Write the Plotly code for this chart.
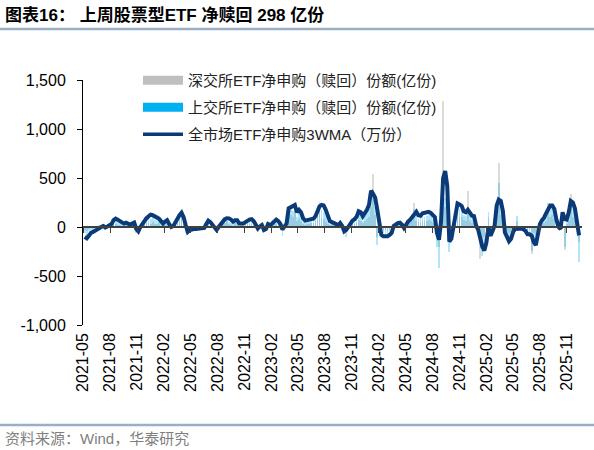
import pandas as pd
import plotly.graph_objects as go

# weekly values, first week 2021-05-07
first_week = "2021-05-07"

# 全市场ETF净申购3WMA
wma3 = [
    -100, -115, -90, -60, -50, -35, -25, -10, 0, 10,
    -5, 5, 15, 30, 70, 85, 75, 60, 45, 35,
    45, 40, 25, 35, 45, -20, -45, 0, 35, 60,
    90, 110, 125, 120, 110, 95, 85, 60, 35, 55,
    70, 30, 0, 10, 50, 90, 120, 145, 100, 20,
    -50, -30, -20, -20, -20, -20, -15, -15, -10, 30,
    65, 50, 20, -5, -30, 0, 30, 55, 80, 90,
    88, 75, 55, 70, 70, 35, 35, 35, 50, 65,
    75, 80, 60, 25, -15, 5, 20, -30, -20, 30,
    20, 35, 60, 75, 60, 30, -25, 5, 35, 190,
    205, 210, 225, 150, 175, 150, 90, 65, 75, 75,
    80, 85, 110, 170, 210, 225, 220, 175, 120, 60,
    50, 45, 30, 15, 40, 10, -45, -30, 0, 45,
    65, 80, 105, 160, 150, 110, 140, 175, 225, 370,
    340, 300, 180, 20, -80, -95, -95, -95, -80, -60,
    10, 30, 40, 45, 25, -10, 25, 55, 75, 100,
    125, 155, 120, 115, 140, 145, 145, 155, 145, 125,
    100, -60, -130, 60, 500, 570, 420, -150, -120, 0,
    130, 240, 230, 215, 160, 150, 175, 150, 115, 110,
    15, -25, -110, -200, -240, -160, 0, -90, -40, 15,
    220, 280, 265, 165, -55, -110, -145, -120, -50, -20,
    -15, -15, -15, -25, -40, -75, -75, -90, -155, -185,
    -75, 30, 70, 95, 140, 180, 220, 220, 185, 75,
    0, -20, 150, 80, 75, 150, 265, 250, 190, 50, -85,
]

# 上交所ETF净申购（赎回）份额
sh_flow = [
    -60, -90, -40, -30, -50, -10, -20, 20, -10, 30,
    -30, 20, 40, 10, 80, 60, 50, 40, 30, 20,
    50, 20, 10, 40, 30, -60, -30, 30, 40, 50,
    70, 90, 80, 100, 70, 60, 80, 30, 10, 50,
    60, -10, -20, 30, 60, 90, 110, 100, 60, -60,
    -40, -10, -20, -10, -20, -10, -20, 0, -10, 40,
    50, 30, -10, -30, -20, 20, 40, 50, 70, 100,
    50, 40, 30, 90, 40, 10, 30, 20, 40, 60,
    50, 60, 30, 10, -50, 20, 10, -40, 0, 30,
    10, 30, 50, 60, 40, 10, -90, 20, 40, 150,
    170, 160, 200, 100, 160, 120, 50, 40, 70, 60,
    60, 70, 100, 150, 180, 170, 150, 120, 60, 30,
    40, 30, 20, -10, 40, -20, -40, -100, 20, 40,
    50, 60, 90, 130, 120, 60, 110, 150, 180, 320,
    380, 200, -180, -60, -90, -60, -80, -70, -60, -30,
    20, 30, 30, 40, 10, -30, 30, 40, 60, 80,
    180, 120, 80, 90, 120, 100, 110, 130, 120, 80,
    80, -200, -420, 60, 350, 300, 150, -250, -100, 20,
    140, 220, 180, 170, 120, 110, 200, 110, 80, 90,
    -20, -60, -150, -300, -180, -120, 150, -70, -30, 10,
    200, 450, 200, 120, -60, -80, -120, -90, -30, 0,
    110, -20, -10, -30, -40, -60, -50, -240, -130, -160,
    -50, 20, 60, 70, 110, 150, 180, 200, 140, 50,
    -20, -10, 120, -200, 60, 120, 200, 220, 150, 30, -360,
]

# 深交所ETF净申购（赎回）份额
sz_flow = [
    -30, -40, -20, -10, -20, -10, -10, 10, 0, 20,
    -10, 10, 20, 10, 40, 30, 20, 20, 10, 10,
    20, 10, 10, 20, 10, -30, -10, 10, 20, 100,
    40, 40, 30, 50, 30, 30, 40, 10, 0, 20,
    30, 0, -10, 10, 30, 40, 60, 120, 30, -30,
    -20, -10, -10, -10, -10, 0, -10, 0, 0, 20,
    30, 10, 0, -20, -10, 10, 20, 30, 40, 60,
    30, 20, 10, 60, 20, 10, 10, 10, 20, 30,
    30, 30, 20, 10, -30, 10, 10, -20, 0, 20,
    10, 20, 30, 30, 20, 10, -40, 10, 30, 150,
    120, 100, 150, 60, 80, 60, 30, 20, 30, 30,
    40, 40, 60, 110, 260, 90, 80, 50, 30, 20,
    20, 20, 10, 0, 20, -10, -20, -50, 10, 20,
    30, 30, 50, 70, 60, 40, 60, 80, 100, 200,
    540, 120, -100, -40, -40, -30, -40, -40, -30, -20,
    10, 20, 20, 20, 10, -20, 20, 20, 40, 60,
    250, 60, 50, 50, 60, 60, 60, 70, 60, 40,
    40, -100, -200, 40, 1290, 200, 100, -150, -60, 10,
    80, 150, 100, 100, 70, 60, 370, 60, 40, 40,
    -10, -30, -330, -150, -100, -60, 100, -40, -20, 10,
    150, 650, 120, 60, -40, -50, -60, -50, -20, 0,
    60, -10, -10, -20, -20, -30, -30, -280, -60, -80,
    -30, 10, 30, 40, 60, 250, 100, 120, 80, 30,
    -10, -10, 60, -230, 30, 60, 340, 100, 80, 20, -150,
]

y_ticks = [-1000, -500, 0, 500, 1000, 1500]
y_tick_labels = ["-1,000", "-500", "0", "500", "1,000", "1,500"]
y_range = [-1000, 1500]
x_range = ["2021-05-01", "2025-12-22"]

dates = pd.date_range(first_week, periods=len(wma3), freq="7D")

FONT = "Arial, Liberation Sans, Noto Sans CJK SC, sans-serif"
W, H = 594, 450
ML, MR, MT, MB = 83, 12, 80, 125
pw = W - ML - MR
ph = H - MT - MB

GRAY = "#bfbfbf"
BLUE = "#00b0f0"
NAVY = "#0b3a78"
RULE = "#9aaec6"

bar_w = 2.5 * 86400000

fig = go.Figure()
fig.add_trace(go.Bar(x=dates, y=sz_flow, width=bar_w, marker_color=GRAY,
                     marker_line_width=0, opacity=0.55, showlegend=False))
fig.add_trace(go.Bar(x=dates, y=sh_flow, width=bar_w, marker_color=BLUE,
                     marker_line_width=0, opacity=0.3, showlegend=False))
fig.add_trace(go.Scatter(x=dates, y=wma3, xaxis="x2", mode="lines",
                         line=dict(color=NAVY, width=4), showlegend=False))

# legend entries (wide swatches like the original)
legend_items = [
    ("深交所ETF净申购（赎回）份额(亿份)", GRAY, 9),
    ("上交所ETF净申购（赎回）份额(亿份)", BLUE, 9),
    ("全市场ETF净申购3WMA（万份）", NAVY, 3.5),
]
for i, (name, col, lw) in enumerate(legend_items):
    fig.add_trace(go.Scatter(x=[None], y=[None], mode="lines", name=name,
                             legendgroup=f"g{i}",
                             line=dict(color=col, width=lw)))

zero_pos = (0 - y_range[0]) / (y_range[1] - y_range[0])

fig.update_layout(
    width=W, height=H,
    margin=dict(l=ML, r=MR, t=MT, b=MB),
    paper_bgcolor="white", plot_bgcolor="white",
    font=dict(family=FONT, size=15, color="black"),
    barmode="overlay",
    bargap=0,
    title=dict(text="<b>图表16： 上周股票型ETF 净赎回 298 亿份</b>",
               x=5 / W, xanchor="left", xref="container",
               y=1 - 15 / H, yanchor="middle", yref="container",
               font=dict(family=FONT, size=17, color="black")),
    xaxis=dict(range=x_range, type="date", tickformat="%Y-%m",
               dtick="M3", tick0="2021-05-01", tickangle=-90,
               showgrid=False, zeroline=False, showline=False,
               automargin=False, ticklabelstandoff=4,
               ticks="", tickfont=dict(size=16, color="black")),
    xaxis2=dict(matches="x", overlaying="x", anchor="free",
                position=zero_pos, range=x_range, type="date",
                dtick="M3", tick0="2021-05-01", showticklabels=False,
                showgrid=False, zeroline=False, showline=True,
                automargin=False,
                linecolor="#404040", linewidth=1.5,
                ticks="outside", ticklen=5, tickcolor="#404040"),
    yaxis=dict(range=y_range, tickvals=y_ticks, ticktext=y_tick_labels,
               showgrid=False, zeroline=False, showline=True,
               automargin=False, ticklabelstandoff=8,
               linecolor="black", linewidth=1, ticks="outside",
               ticklen=5, tickcolor="black",
               tickfont=dict(size=16, color="black")),
    legend=dict(x=(138 - ML) / pw, y=1 + 16 / ph, xanchor="left",
                yanchor="top", bgcolor="rgba(0,0,0,0)",
                font=dict(size=15, color="#222"), tracegroupgap=4.5,
                itemwidth=40),
    shapes=[
        dict(type="line", xref="paper", yref="paper",
             x0=-ML / pw, x1=(W - ML) / pw,
             y0=1 + (MT - 29) / ph, y1=1 + (MT - 29) / ph,
             line=dict(color=RULE, width=2.5)),
        dict(type="line", xref="paper", yref="paper",
             x0=-ML / pw, x1=(W - ML) / pw,
             y0=-(425 - (H - MB)) / ph, y1=-(425 - (H - MB)) / ph,
             line=dict(color=RULE, width=2.5)),
    ],
    annotations=[
        dict(text="资料来源：Wind，华泰研究", xref="paper", yref="paper",
             x=(3 - ML) / pw, y=-(438 - (H - MB)) / ph,
             xanchor="left", yanchor="middle", showarrow=False,
             font=dict(size=15, color="#7f7f7f")),
    ],
)

fig.write_html("out.html", config={"displayModeBar": False},
               post_script="document.body.style.margin='0';")
